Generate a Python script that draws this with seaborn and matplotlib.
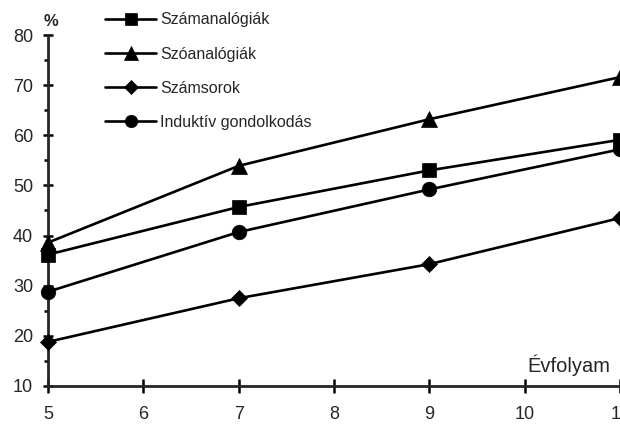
import pandas as pd
import matplotlib
matplotlib.use("Agg")
import matplotlib.pyplot as plt
import seaborn as sns

grades = [5, 7, 9, 11]
szamanalogiak = [36.2, 45.7, 53.0, 59.1]
szoanalogiak = [38.6, 53.9, 63.2, 71.6]
szamsorok = [18.8, 27.5, 34.3, 43.5]
induktiv = [28.8, 40.7, 49.2, 57.2]

series_names = ["Számanalógiák", "Szóanalógiák", "Számsorok", "Induktív gondolkodás"]
series_values = [szamanalogiak, szoanalogiak, szamsorok, induktiv]
marker_map = {"Számanalógiák": "s", "Szóanalógiák": "^", "Számsorok": "D", "Induktív gondolkodás": "o"}
size_map = {"Számanalógiák": 10.5, "Szóanalógiák": 12, "Számsorok": 8.5, "Induktív gondolkodás": 10.5}

rows = []
for name, vals in zip(series_names, series_values):
    for g, v in zip(grades, vals):
        rows.append({"grade": g, "value": v, "series": name})
df = pd.DataFrame(rows)

sns.set_style("ticks")
plt.rcParams['font.family'] = ['Liberation Sans', 'DejaVu Sans']

fig = plt.figure(figsize=(6.2, 4.24), dpi=100)
ax = fig.add_axes([48 / 620, 1 - 386 / 424, 1 - 48 / 620, (386 - 35) / 424])

for name in series_names:
    sub = df[df["series"] == name]
    sns.lineplot(data=sub, x="grade", y="value", ax=ax, color="black", lw=1.9,
                 marker=marker_map[name], markersize=size_map[name],
                 markeredgecolor="black", markerfacecolor="black", markeredgewidth=0.5,
                 label=name, clip_on=False, zorder=3)

ax.set_xlim(5, 11)
ax.set_ylim(10, 80)
ax.set_xticks(range(5, 12))
ax.set_yticks(range(10, 81, 10))
ax.set_yticks(range(15, 80, 10), minor=True)
ax.tick_params(axis="both", which="both", width=1.8, labelsize=13, color="black")
ax.tick_params(axis="y", which="major", direction="inout", length=6.5, pad=7.5)
ax.tick_params(axis="y", which="minor", direction="out", length=3)
ax.tick_params(axis="x", which="major", direction="inout", length=9.5, pad=10)
for s in ["top", "right"]:
    ax.spines[s].set_visible(False)
for s in ["left", "bottom"]:
    ax.spines[s].set_linewidth(2)
ax.set_xlabel("")
ax.set_ylabel("")

fig.text(51 / 620, 1 - 21 / 424, "%", fontsize=12, fontweight="bold", ha="center", va="center")
ax.text(0.9825, 0.06, "Évfolyam", transform=ax.transAxes, fontsize=14.5, ha="right", va="center")

handles, labels = ax.get_legend_handles_labels()
ax.get_legend().remove()
leg = fig.legend(handles, labels, loc="upper left", bbox_to_anchor=(99 / 620, 1 - 6 / 424),
                 frameon=False, fontsize=11.5, handlelength=3.15, handletextpad=0.3,
                 labelspacing=1.2, borderaxespad=0, markerscale=0.85)

fig.savefig("out.png", dpi=100)
